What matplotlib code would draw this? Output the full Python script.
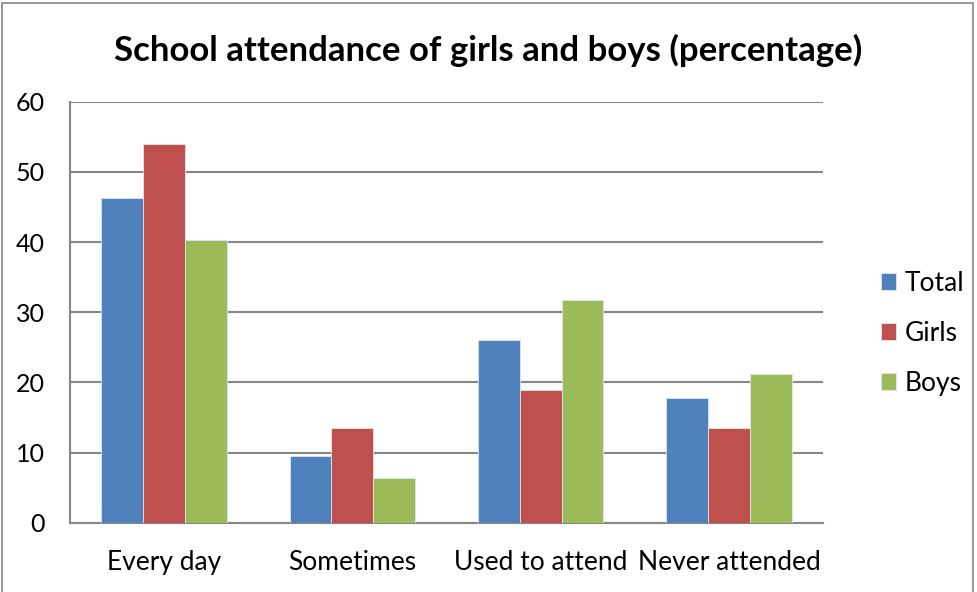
import numpy as np
import matplotlib.pyplot as plt
from matplotlib.patches import Rectangle

categories = ['Every day', 'Sometimes', 'Used to attend', 'Never attended']
series_names = ['Total', 'Girls', 'Boys']
total = [46.3, 9.5, 26.1, 17.8]
girls = [54.0, 13.5, 18.9, 13.5]
boys = [40.3, 6.3, 31.8, 21.2]
yticks = [0, 10, 20, 30, 40, 50, 60]

colors = ['#4F81BD', '#C0504D', '#9BBB59']
plt.rcParams['font.family'] = ['Lato', 'DejaVu Sans']

fig = plt.figure(figsize=(9.77, 5.92), dpi=100)
ax = fig.add_axes([0.0716, 0.1171, 0.7708, 0.7111])

x = np.arange(len(categories))
w = 1 / 4.5
for i, (name, vals) in enumerate(zip(series_names, [total, girls, boys])):
    ax.bar(x + (i - 1) * w, vals, width=w, color=colors[i], label=name,
           edgecolor='#dfe6ee', linewidth=0.6, zorder=3)

ax.set_xlim(-0.5, len(categories) - 0.5)
ax.set_ylim(0, 60)
ax.set_yticks(yticks)
ax.set_xticks(x)
ax.set_xticklabels(categories, fontsize=19)
ax.tick_params(axis='y', labelsize=18, length=0, pad=18)
ax.tick_params(axis='x', length=0, pad=20)
ax.yaxis.grid(True, color='#868686', linewidth=1.5, zorder=0)
for s in ['top', 'right']:
    ax.spines[s].set_visible(False)
for s in ['left', 'bottom']:
    ax.spines[s].set_color('#868686')
    ax.spines[s].set_linewidth(1.5)

# title is centred on the whole chart, not the plot area
fig.text(0.5, 0.915, 'School attendance of girls and boys (percentage)', fontsize=25,
         fontweight='bold', ha='center', va='center')

leg = fig.legend(loc='center left', bbox_to_anchor=(0.877, 0.437), frameon=False,
                 fontsize=19, handlelength=0.6, handleheight=0.6,
                 handletextpad=0.3, labelspacing=0.95)

fig.patches.append(Rectangle((0.002, -0.01), 0.994, 1.005, transform=fig.transFigure,
                             fill=False, edgecolor='#868686', linewidth=1.2))

fig.savefig('out.png', dpi=100)
